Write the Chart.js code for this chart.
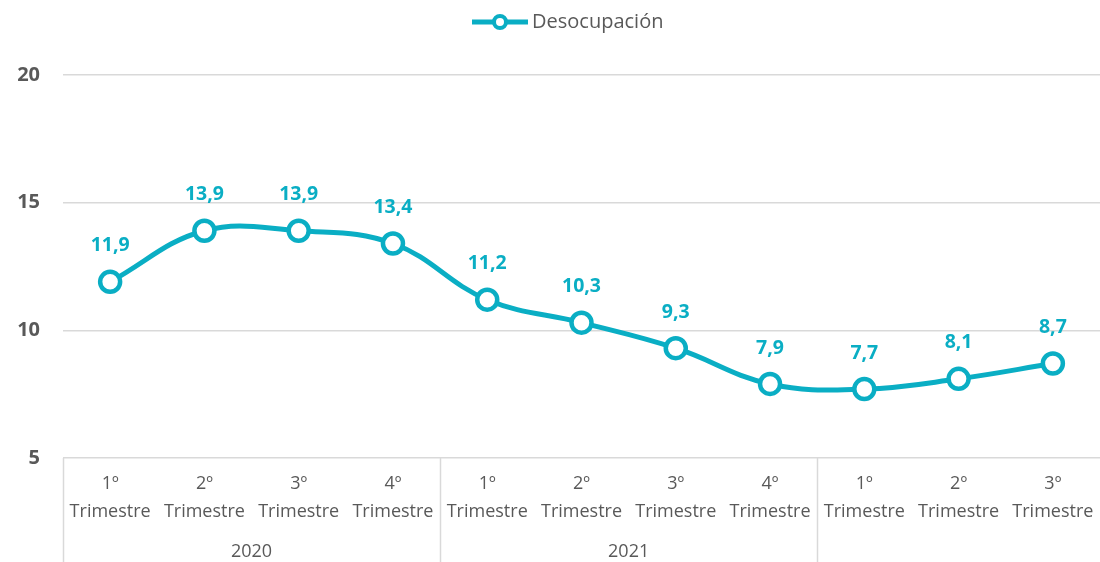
<!DOCTYPE html>
<html>
<head>
<meta charset="utf-8">
<script src="https://cdn.jsdelivr.net/npm/chart.js@4/dist/chart.umd.min.js"></script>
<style>
html,body{margin:0;padding:0;background:#fff;}
#wrap{width:1100px;height:562px;position:relative;}
</style>
</head>
<body>
<div id="wrap"><canvas id="c" width="1100" height="562"></canvas></div>
<script>
const quarterLabels = [['1º','Trimestre'],['2º','Trimestre'],['3º','Trimestre'],['4º','Trimestre'],
  ['1º','Trimestre'],['2º','Trimestre'],['3º','Trimestre'],['4º','Trimestre'],
  ['1º','Trimestre'],['2º','Trimestre'],['3º','Trimestre']];
const years = ['2020','2021',''];
const yearSizes = [4,4,3];
const desocupacion = [11.9,13.9,13.9,13.4,11.2,10.3,9.3,7.9,7.7,8.1,8.7];
const seriesName = 'Desocupación';
const yTicks = {min:5,max:20,step:5};

const TEAL = '#0AAEC4';
const GRAY = '#595959';
const GRID = '#d9d9d9';
const FONT = "'Open Sans', sans-serif";

const extras = {
  id:'extras',
  afterDraw(chart){
    const ctx = chart.ctx;
    const x = chart.scales.x;
    const area = chart.chartArea;
    const H = chart.height;
    ctx.save();
    ctx.strokeStyle = GRID;
    ctx.lineWidth = 1.5;
    let idx = 0;
    for (let g=0; g<yearSizes.length; g++){
      const start = idx, end = idx + yearSizes[g] - 1;
      const left = start===0 ? area.left : (x.getPixelForValue(start-1)+x.getPixelForValue(start))/2;
      ctx.beginPath(); ctx.moveTo(Math.round(left)+0.5, area.bottom); ctx.lineTo(Math.round(left)+0.5, H); ctx.stroke();
      const cx = (x.getPixelForValue(start)+x.getPixelForValue(end))/2;
      ctx.fillStyle = GRAY;
      ctx.font = "18px " + FONT;
      ctx.textAlign = 'center'; ctx.textBaseline = 'middle';
      if (years[g]) ctx.fillText(years[g], cx, 552);
      idx = end + 1;
    }
    const meta = chart.getDatasetMeta(0);
    ctx.fillStyle = TEAL;
    ctx.font = "bold 19.5px " + FONT;
    ctx.textAlign = 'center'; ctx.textBaseline = 'middle';
    meta.data.forEach((pt,i)=>{
      ctx.fillText(desocupacion[i].toFixed(1).replace('.',','), pt.x, pt.y - 36);
    });
    const lx = 500, ly = 22;
    ctx.strokeStyle = TEAL; ctx.lineWidth = 5;
    ctx.beginPath(); ctx.moveTo(472, ly); ctx.lineTo(528, ly); ctx.stroke();
    ctx.fillStyle = '#fff'; ctx.lineWidth = 4;
    ctx.beginPath(); ctx.arc(lx, ly, 6, 0, Math.PI*2); ctx.fill(); ctx.stroke();
    ctx.fillStyle = GRAY; ctx.font = "20px " + FONT;
    ctx.textAlign = 'left';
    ctx.fillText(seriesName, 532, ly);
    ctx.restore();
  }
};

new Chart(document.getElementById('c'), {
  type:'line',
  data:{
    labels: quarterLabels,
    datasets:[{
      label: seriesName,
      data: desocupacion,
      borderColor: TEAL,
      borderWidth: 5,
      tension: 0.4,
      pointRadius: 10,
      pointHoverRadius: 10,
      pointBorderWidth: 4.5,
      pointBackgroundColor: '#fff',
      pointBorderColor: TEAL,
      fill:false,
      clip:false
    }]
  },
  options:{
    responsive:false,
    animation:false,
    events:[],
    layout:{autoPadding:false,padding:{top:75,right:0,left:0,bottom:0}},
    plugins:{legend:{display:false},tooltip:{enabled:false}},
    scales:{
      x:{
        offset:true,
        grid:{display:false},
        border:{display:false},
        ticks:{color:GRAY,font:{family:FONT,size:18,lineHeight:1.55},padding:4,maxRotation:0,autoSkip:false},
        afterFit(s){ s.height = 104; s.paddingLeft = 0; s.paddingRight = 0; }
      },
      y:{
        min:yTicks.min,max:yTicks.max,
        ticks:{stepSize:yTicks.step,color:GRAY,font:{family:FONT,size:20,weight:'bold'},padding:23},
        grid:{color:GRID,lineWidth:1.5,drawTicks:false},
        border:{display:false},
        afterFit(s){ s.width = 63; s.paddingTop = 0; s.paddingBottom = 0; }
      }
    }
  },
  plugins:[extras]
});
</script>
</body>
</html>
